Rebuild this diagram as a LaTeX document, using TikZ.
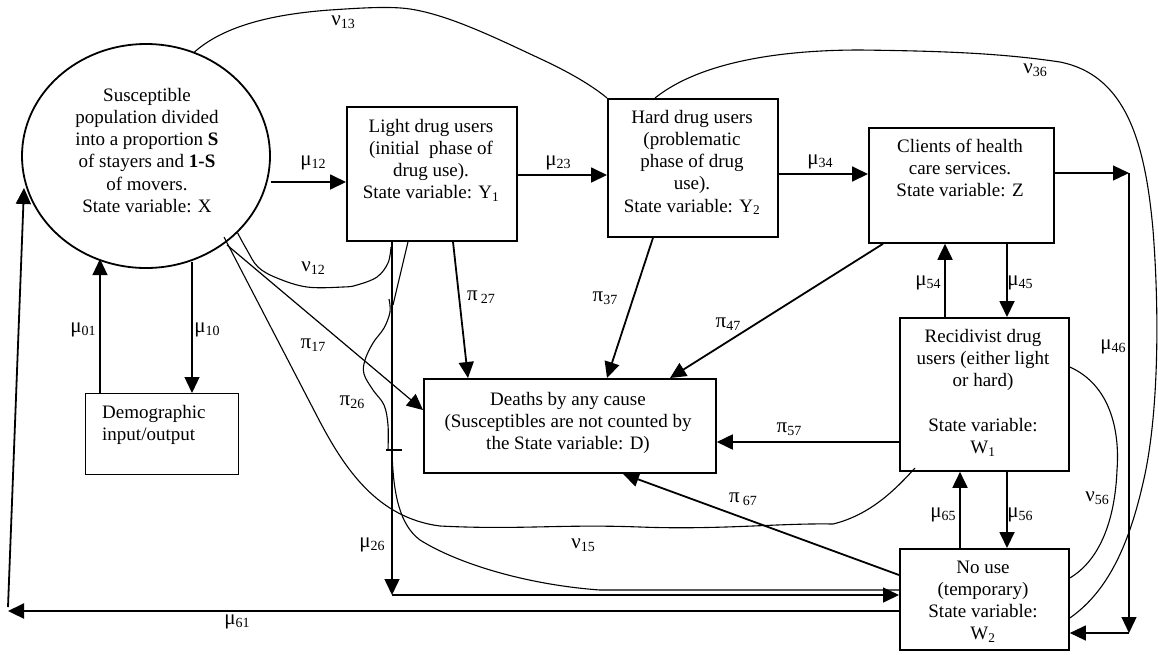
\documentclass[tikz,border=0pt]{standalone}
\usepackage{fontspec}
\setmainfont{Liberation Serif}
\usetikzlibrary{arrows.meta,shapes.geometric}
\newcommand{\gk}[2]{{\fontsize{21}{22}\selectfont #1}\raisebox{-3pt}{\fontsize{14}{15}\selectfont #2}}
\begin{document}
\begin{tikzpicture}[x=1pt,y=-1pt,
  box/.style={draw, line width=1.8pt, rectangle, inner sep=0pt, anchor=north west},
  txt/.style={align=center, inner sep=0pt, anchor=north, font=\fontsize{19}{22.2}\selectfont},
  lbl/.style={inner sep=0pt},
  arr/.style={line width=1.8pt, -{Triangle[length=16pt,width=15pt]}},
  thinarr/.style={line width=1.2pt, -{Triangle[length=16pt,width=15pt]}},
  curve/.style={line width=1.1pt},
]
\useasboundingbox (0,0) rectangle (1158,654);

% ---- nodes
\node[draw, ellipse, line width=1.8pt, minimum width=248pt, minimum height=224pt, inner sep=0pt] (X) at (146,156) {};
\node[box, minimum width=170pt, minimum height=134pt] (Y1) at (346,106) {};
\node[box, minimum width=170pt, minimum height=138pt] (Y2) at (607,98) {};
\node[box, minimum width=185pt, minimum height=115pt] (Z) at (868,127) {};
\node[box, minimum width=169pt, minimum height=153pt] (W1) at (899,317) {};
\node[box, minimum width=169pt, minimum height=101pt] (W2) at (899,548) {};
\node[box, minimum width=292pt, minimum height=94pt] (D) at (423,378) {};
\node[box, line width=1.2pt, minimum width=153pt, minimum height=81pt] (DEM) at (85,393) {};

% ---- texts
\node[txt] (tX) at (147,85.5) {\strut Susceptible\\population divided\\into a proportion \textbf{S}\\of stayers and \textbf{1-S}\\of movers.\\State variable: X};
\node[txt] (tY1) at (431,116.5) {\strut Light drug users\\(initial\ \ phase of\\drug use).\\State variable: Y\textsubscript{1}};
\node[txt] (tY2) at (692,107.5) {\strut Hard drug users\\(problematic\\phase of drug\\use).\\State variable: Y\textsubscript{2}};
\node[txt] (tZ) at (960,136.5) {\strut Clients of health\\care services.\\State variable: Z};
\node[txt] (tW1) at (983,326.5) {\strut Recidivist drug\\users (either light\\or hard)\\[22.2pt]State variable:\\W\textsubscript{1}};
\node[txt] (tW2) at (983,557.5) {\strut No use\\(temporary)\\State variable:\\W\textsubscript{2}};
\node[txt] (tD) at (568,389.5) {\strut Deaths by any cause\\(Susceptibles are not counted by\\the State variable: D)};
\node[txt, align=left, anchor=north west] (tDEM) at (102,402.5) {\strut Demographic\\input/output};

% ---- helper coordinates
\path (0,182) coordinate (h12) (0,175) coordinate (h23) (0,174) coordinate (h34)
 (1129,173) coordinate (c46a) (1129,633) coordinate (c46b)
 (1007,0) coordinate (v45) (945,0) coordinate (v54) (960,0) coordinate (v65)
 (0,442) coordinate (h57) (0,575) coordinate (h67) (623,0) coordinate (v67)
 (883,0) coordinate (v47) (670,0) coordinate (w47) (653,0) coordinate (v37) (607,0) coordinate (w37)
 (453,0) coordinate (v27) (468,0) coordinate (w27) (0,410) coordinate (h17) (227,245) coordinate (s17)
 (192,262) coordinate (s10) (192,0) coordinate (v10) (100,259) coordinate (e01)
 (0,611) coordinate (h61) (8,611) coordinate (e61) (8,607) coordinate (s61) (24,188) coordinate (f61)
 (392,595) coordinate (c26) (408,0) coordinate (v26) (0,590) coordinate (h26)
 (224,237) coordinate (s15) (915,468) coordinate (e15)
 (0,618) coordinate (h36) (655,0) coordinate (v36) (0,367) coordinate (h56a) (0,578) coordinate (h56b);

% ---- straight connectors
\draw[arr] (X.east |- h12) -- (Y1.west |- h12);
\draw[arr] (Y1.east |- h23) -- (Y2.west |- h23);
\draw[arr] (Y2.east |- h34) -- (Z.west |- h34);
\draw[thinarr] (Z.east |- c46a) -- (c46a);
\draw[thinarr] (c46a) -- (c46b);
\draw[thinarr] (c46b) -- (W2.east |- c46b);
\draw[arr] (Z.south -| v45) -- (W1.north -| v45);
\draw[arr] (W1.north -| v54) -- (Z.south -| v54);
\draw[arr] (W1.south -| v45) -- (W2.north -| v45);
\draw[arr] (W2.north -| v65) -- (W1.south -| v65);
\draw[arr] (W1.west |- h57) -- (D.east |- h57);
\draw[arr] (W2.west |- h67) -- (D.south -| v67);
\draw[arr] (Z.south -| v47) -- (D.north -| w47);
\draw[arr] (Y2.south -| v37) -- (D.north -| w37);
\draw[arr] (Y1.south -| v27) -- (D.north -| w27);
\draw[thinarr] (s17) -- (D.west |- h17);
\draw[thinarr] (s10) -- (DEM.north -| v10);
\draw[thinarr] (DEM.north -| e01) -- (e01);
\draw[arr, line width=2.2pt] (W2.west |- h61) -- (e61);
\draw[arr] (s61) -- (f61);
\draw[arr, line width=1.5pt] (Y1.south -| c26) -- (c26);
\draw[arr, line width=1.5pt] (c26) -- (W2.west |- c26);

% ---- curved connectors
\draw[curve] plot[smooth, tension=0.6] coordinates {(X.-40) (247,250) (258,267) (277,278) (307,287) (343,287) (357,285) (377,277) (388,263) (391,247)};
\draw[curve] (Y1.south -| v26) -- (393,305);
\draw[curve] plot[smooth, tension=0.6] coordinates {(389,299) (390,312) (384,328) (373,343) (365,360) (364,374) (373,390) (384,405) (388,425) (388,450)};
\draw[curve] (386,450) -- (402,450);
\draw[curve] (392,450) .. controls (393,495) and (400,525) .. (420,540) .. controls (460,565) and (530,585) .. (600,590) -- (W2.west |- h26);
\draw[curve] (s15) -- (318,418) .. controls (345,470) and (378,518) .. (440,526) .. controls (520,530) and (560,524) .. (640,527) .. controls (720,530) and (780,523) .. (833,524) .. controls (870,515) and (895,490) .. (e15);
\draw[curve] (X.65) .. controls (225,25) and (275,14) .. (330,10) .. controls (360,8) and (390,6) .. (410,9) .. controls (450,15) and (500,40) .. (543,60) .. controls (575,75) and (595,88) .. (Y2.north west);
\draw[curve] (Y2.north -| v36) .. controls (700,62) and (780,50) .. (860,50) .. controls (940,51) and (1000,53) .. (1060,62) .. controls (1125,75) and (1145,140) .. (1153,230) .. controls (1160,320) and (1158,420) .. (1143,483) .. controls (1130,540) and (1110,590) .. (W2.east |- h36);
\draw[curve] (W1.east |- h56a) .. controls (1110,385) and (1120,430) .. (1117,470) .. controls (1115,520) and (1100,560) .. (W2.east |- h56b);

% ---- labels
\node[lbl] (l12) at (313,163) {\gk{μ}{12}};
\node[lbl] (l23) at (558,163) {\gk{μ}{23}};
\node[lbl] (l34) at (820,162) {\gk{μ}{34}};
\node[lbl] (n13) at (343,22) {\gk{ν}{13}};
\node[lbl] (n36) at (1035,70) {\gk{ν}{36}};
\node[lbl] (n12) at (313,268) {\gk{ν}{12}};
\node[lbl] (p17) at (313,345) {\gk{π}{17}};
\node[lbl] (p26) at (352,402) {\gk{π}{26}};
\node[lbl] (p27) at (481,297) {\gk{π}{\hspace{3pt}27}};
\node[lbl] (p37) at (605,298) {\gk{π}{37}};
\node[lbl] (p47) at (728,324) {\gk{π}{47}};
\node[lbl] (p57) at (789,429) {\gk{π}{57}};
\node[lbl] (p67) at (743,499) {\gk{π}{\hspace{3pt}67}};
\node[lbl] (n15) at (583,545) {\gk{ν}{15}};
\node[lbl] (m26) at (372,545) {\gk{μ}{26}};
\node[lbl] (m61) at (237,622) {\gk{μ}{61}};
\node[lbl] (m01) at (83,330) {\gk{μ}{01}};
\node[lbl] (m10) at (207,330) {\gk{μ}{10}};
\node[lbl] (m54) at (928,283) {\gk{μ}{54}};
\node[lbl] (m45) at (1020,283) {\gk{μ}{45}};
\node[lbl] (m65) at (943,515) {\gk{μ}{65}};
\node[lbl] (m56) at (1020,515) {\gk{μ}{56}};
\node[lbl] (m46) at (1113,347) {\gk{μ}{46}};
\node[lbl] (n56) at (1097,498) {\gk{ν}{56}};
\end{tikzpicture}
\end{document}
